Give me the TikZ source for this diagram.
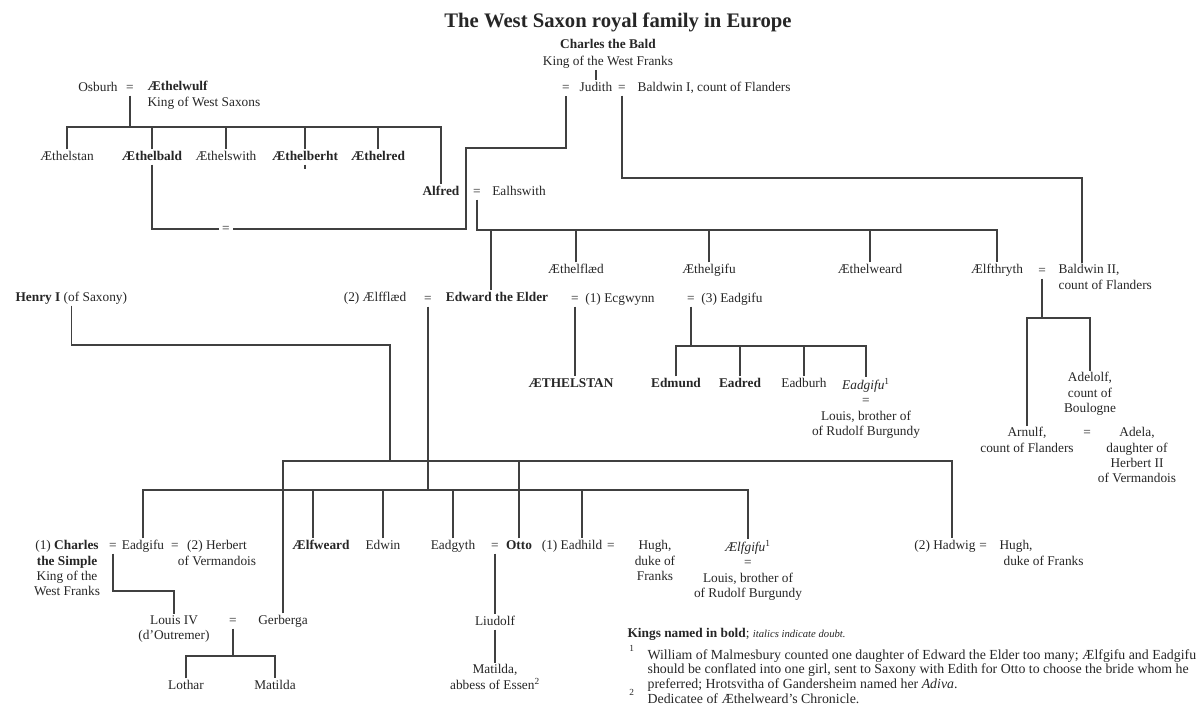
\documentclass[tikz,border=0pt]{standalone}
\usepackage{fontspec}
\setmainfont{Liberation Serif}
\definecolor{txt}{HTML}{262626}
\definecolor{ln}{HTML}{404040}
\newcommand\fsz{\fontsize{10}{11.5}\selectfont}
\begin{document}
\begin{tikzpicture}[x=0.75pt,y=-0.75pt,
  every node/.style={inner sep=1pt,text=txt,font=\fsz},
  pn/.style={text height=7pt,text depth=2pt},
  eqs/.style={pn,inner xsep=2.5pt},
  ml/.style={align=center,anchor=north},
  mll/.style={align=left,anchor=north west},
  lk/.style={draw=ln,line width=0.9pt},
]
\useasboundingbox (0,0) rectangle (1203,706);
% title
\node[font=\fontsize{15.5}{17}\selectfont\bfseries] (title) at (618,22) {The West Saxon royal family in Europe};
% top generation
\node[ml] (charlesB) at (608,38) {\textbf{Charles the Bald}\\[1pt]King of the West Franks};
\node[eqs] (eqJa) at (566,88) {=};
\node[pn] (judith) at (596,88) {Judith};
\node[eqs] (eqJb) at (622,88) {=};
\node[pn,anchor=west] (baldwin1) at (636,88) {Baldwin I, count of Flanders};
\node[pn] (osburh) at (98,88) {Osburh};
\node[eqs] (eqO) at (130,88) {=};
\node[mll] (aethelwulf) at (146,80) {\textbf{Æthelwulf}\\King of West Saxons};
% children of Æthelwulf
\node[pn] (aethelstanA) at (67,157) {Æthelstan};
\node[pn] (aethelbald) at (152,157) {\textbf{Æthelbald}};
\node[pn] (aethelswith) at (226,157) {Æthelswith};
\node[pn] (aethelberht) at (305,157) {\textbf{Æthelberht}};
\node[pn] (aethelred) at (378,157) {\textbf{Æthelred}};
\node[pn] (alfred) at (441,192) {\textbf{Alfred}};
\node[eqs] (eqAE) at (477,192) {=};
\node[pn] (ealhswith) at (519,192) {Ealhswith};
\node[eqs] (eqAJ) at (226,229) {=};
% children of Alfred
\node[pn] (aethelflaed) at (576,270) {Æthelflæd};
\node[pn] (aethelgifu) at (709,270) {Æthelgifu};
\node[pn] (aethelweard) at (870,270) {Æthelweard};
\node[pn] (aelfthryth) at (997,270) {Ælfthryth};
\node[eqs] (eqAB) at (1042,271) {=};
\node[mll] (baldwin2) at (1057,263) {Baldwin II,\\count of Flanders};
\node[pn,anchor=west] (henry) at (14,298) {\textbf{Henry I} (of Saxony)};
\node[pn] (aelfflaed) at (375,298) {(2) Ælfflæd};
\node[eqs] (eqEd) at (428,299) {=};
\node[pn] (edward) at (497,298) {\textbf{Edward the Elder}};
\node[eqs] (eqEc) at (575,299) {=};
\node[pn] (ecgwynn) at (620,299) {(1) Ecgwynn};
\node[eqs] (eqEa) at (691,299) {=};
\node[pn] (eadgifuC) at (732,299) {(3) Eadgifu};
% grandchildren
\node[pn] (aethelstanB) at (571,384) {\textbf{ÆTHELSTAN}};
\node[pn] (edmund) at (676,384) {\textbf{Edmund}};
\node[pn] (eadred) at (740,384) {\textbf{Eadred}};
\node[pn] (eadburh) at (804,384) {Eadburh};
\node[ml] (eadgifuB) at (866,377) {\textit{Eadgifu}\textsuperscript{1}\\=\\Louis, brother of\\of Rudolf Burgundy};
\node[ml] (adelolf) at (1090,371) {Adelolf,\\count of\\Boulogne};
\node[ml] (arnulf) at (1027,426) {Arnulf,\\count of Flanders};
\node[eqs] (eqArn) at (1087,433) {=};
\node[ml] (adela) at (1137,426) {Adela,\\daughter of\\Herbert II\\of Vermandois};
% row of Edward's children
\node[ml] (charlesS) at (67,539) {(1) \textbf{Charles}\\\textbf{the Simple}\\King of the\\West Franks};
\node[eqs] (eqCE) at (113,546) {=};
\node[pn] (eadgifuA) at (143,546) {Eadgifu};
\node[eqs] (eqEH) at (175,546) {=};
\node[ml] (herbert) at (217,539) {(2) Herbert\\of Vermandois};
\node[pn] (aelfweard) at (321,546) {\textbf{Ælfweard}};
\node[pn] (edwin) at (383,546) {Edwin};
\node[pn] (eadgyth) at (453,546) {Eadgyth};
\node[eqs] (eqEO) at (495,546) {=};
\node[pn] (otto) at (519,546) {\textbf{Otto}};
\node[pn] (eadhild) at (572,546) {(1) Eadhild};
\node[eqs] (eqHE) at (611,546) {=};
\node[ml] (hugh1) at (655,539) {Hugh,\\duke of\\Franks};
\node[ml] (aelfgifu) at (748,539) {\textit{Ælfgifu}\textsuperscript{1}\\=\\Louis, brother of\\of Rudolf Burgundy};
\node[pn] (hadwig) at (945,546) {(2) Hadwig};
\node[eqs] (eqHH) at (983,546) {=};
\node[mll] (hugh2) at (998,539) {Hugh,\\\hspace*{3pt}duke of Franks};
% later generations
\node[ml] (louis) at (174,614) {Louis IV\\(d'Outremer)};
\node[eqs] (eqLG) at (233,621) {=};
\node[pn] (gerberga) at (283,621) {Gerberga};
\node[pn] (liudolf) at (495,622) {Liudolf};
\node[pn] (lothar) at (186,686) {Lothar};
\node[pn] (matildaA) at (275,686) {Matilda};
\node[ml] (matildaB) at (495,663) {Matilda,\\abbess of Essen\textsuperscript{2}};
% key and footnotes
\node[pn,anchor=west] (key) at (626,634) {\textbf{Kings named in bold}; {\fontsize{8}{9}\selectfont\itshape italics indicate doubt.}};
\node[anchor=north west,align=left,font=\fontsize{10.4}{10.9}\selectfont] (fn1) at (646,648) {William of Malmesbury counted one daughter of Edward the Elder too many; Ælfgifu and Eadgifu\\should be conflated into one girl, sent to Saxony with Edith for Otto to choose the bride whom he\\preferred; Hrotsvitha of Gandersheim named her \textit{Adiva}.};
\node[anchor=north west,font=\fontsize{10.4}{10.9}\selectfont] (fn2) at (646,692) {Dedicatee of Æthelweard's Chronicle.};
\node (m1) at (632,651) {\textsuperscript{1}};
\node (m2) at (632,695) {\textsuperscript{2}};
% ---- connectors ----
\draw[lk] (charlesB.south -| judith.north) -- (judith.north);
\coordinate (b1) at (130,127);
\draw[lk] (eqO.south) -- (b1);
\draw[lk] (aethelstanA.north) |- (b1) -| (alfred.north);
\foreach \n in {aethelbald,aethelswith,aethelberht,aethelred}
  \draw[lk] (\n.north) -- (\n.north |- b1);
\draw[lk] (aethelberht.south) -- ++(0,4);
\coordinate (cj1) at (466,148);
\draw[lk] (aethelbald.south) |- (eqAJ.west);
\draw[lk] (eqAJ.east) -| (cj1) -| (eqJa.south);
\coordinate (cj2) at (1082,178);
\draw[lk] (eqJb.south) |- (cj2) -- (cj2 |- baldwin2.north);
\coordinate (b2) at (477,230);
\coordinate (dEd) at (491,230);
\draw[lk] (eqAE.south) -- (b2) -| (aelfthryth.north);
\draw[lk] (dEd) -- (dEd |- edward.north);
\foreach \n in {aethelflaed,aethelgifu,aethelweard}
  \draw[lk] (\n.north) -- (\n.north |- b2);
\coordinate (b3) at (1042,318);
\draw[lk] (eqAB.south) -- (b3);
\draw[lk] (arnulf.north) |- (b3) -| (adelolf.north);
\draw[lk] (eqEc.south) -- (eqEc.south |- aethelstanB.north);
\coordinate (b4) at (691,346);
\draw[lk] (eqEa.south) -- (b4);
\draw[lk] (edmund.north) |- (b4) -| (eadgifuB.north);
\foreach \n in {eadred,eadburh}
  \draw[lk] (\n.north) -- (\n.north |- b4);
\coordinate (b5) at (428,490);
\draw[lk] (eqEd.south) -- (b5);
\draw[lk] (eadgifuA.north) |- (b5) -| (aelfgifu.north);
\coordinate (dAw) at (313,490);
\draw[lk] (dAw) -- (dAw |- aelfweard.north);
\coordinate (dEh) at (582,490);
\draw[lk] (dEh) -- (dEh |- eadhild.north);
\foreach \n in {edwin,eadgyth}
  \draw[lk] (\n.north) -- (\n.north |- b5);
\coordinate (hc) at (390,345);
\coordinate (b6) at (390,461);
\coordinate (dHw) at (952,461);
\draw[lk] (henry.south) |- (hc) -- (b6);
\draw[lk] (gerberga.north) |- (b6) -- (dHw) -- (dHw |- hadwig.north);
\draw[lk] (otto.north) -- (otto.north |- b6);
\coordinate (cl) at (113,591);
\draw[lk] (eqCE.south) -- (cl) -| (louis.north);
\coordinate (b7) at (233,656);
\draw[lk] (eqLG.south) -- (b7);
\draw[lk] (lothar.north) |- (b7) -| (matildaA.north);
\draw[lk] (eqEO.south) -- (liudolf.north);
\draw[lk] (liudolf.south) -- (matildaB.north);
\end{tikzpicture}
\end{document}
